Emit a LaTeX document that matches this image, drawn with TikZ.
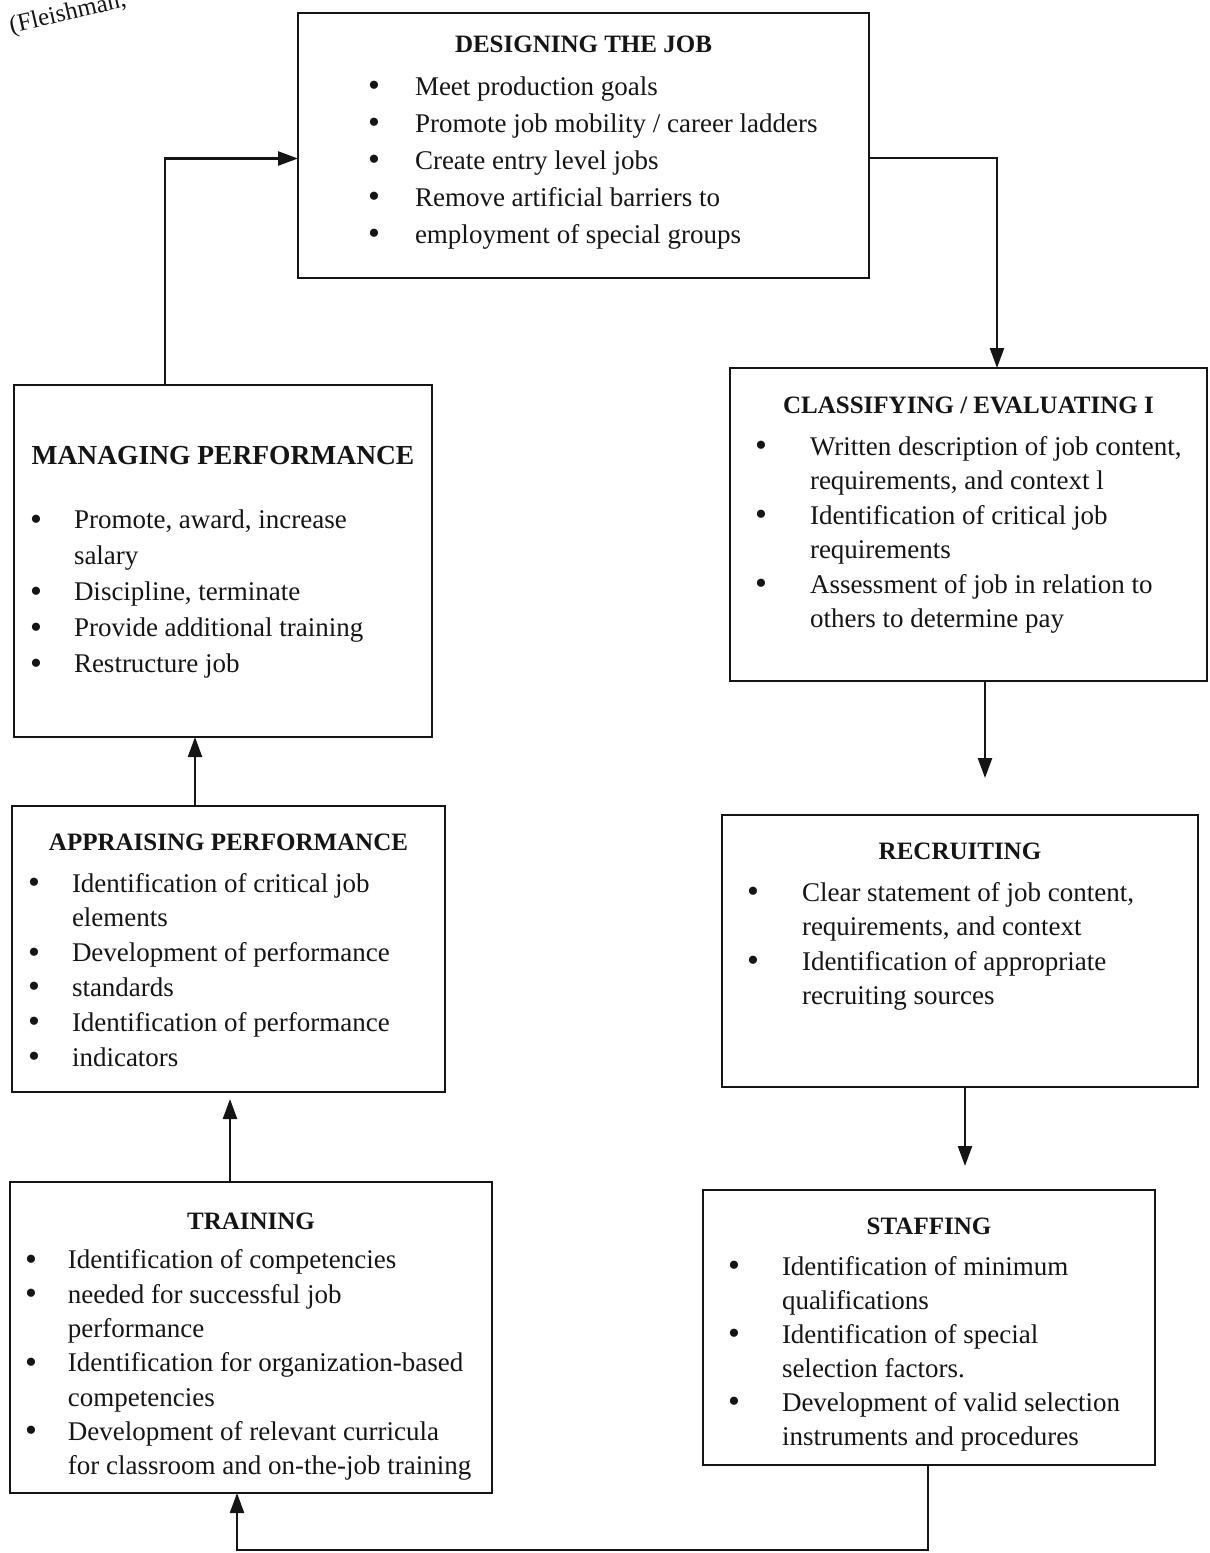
\documentclass[tikz,border=0pt]{standalone}
\usepackage{fontspec}
\setmainfont{Liberation Serif}
\usepackage{enumitem}
\usetikzlibrary{arrows.meta,positioning}
\definecolor{ink}{HTML}{151515}
\setlist[itemize]{label=\raisebox{-1.5pt}{\fontsize{34}{34}\selectfont\textbullet},align=left,labelwidth=16pt,topsep=0pt,partopsep=0pt,itemsep=0pt,parsep=0pt,rightmargin=-60pt}
\newcommand{\stagehead}[2][7pt]{{\centering\bfseries\fontsize{25}{30}\selectfont #2\par}\vspace{#1}}
\newcommand{\stagebody}[4]{\makebox[#1][l]{\begin{minipage}[t][#2][t]{#1}\vspace*{#3}#4\end{minipage}}}
\tikzset{stage/.style={draw=ink,line width=2.6pt,inner ysep=0pt,outer sep=0pt,text=ink,font=\fontsize{27}{34.5}\selectfont}, arr/.style={-{Triangle[length=20pt,width=14pt]},line width=2.4pt,draw=ink}}

\begin{document}
\begin{tikzpicture}[x=1pt,y=-1pt]
\useasboundingbox (0,0) rectangle (1210,1553);
\node[rotate=13,anchor=base west,text=ink,font=\fontsize{25}{28}\selectfont](cite) at (8,34){(Fleishman,};
\node[stage,inner xsep=70pt,anchor=north west,font=\fontsize{27}{37}\selectfont](design) at (298,13){\stagebody{431pt}{265pt}{23pt}{\stagehead[5.5pt]{DESIGNING THE JOB}\begin{itemize}[leftmargin=47pt,labelsep=31pt]\item Meet production goals\item Promote job mobility / career ladders\item Create entry level jobs\item Remove artificial barriers to\item employment of special groups\end{itemize}}};
\node[stage,inner xsep=25pt,below=90pt of design.south east,xshift=-139pt,anchor=north west](classify){\stagebody{427pt}{313pt}{29pt}{\stagehead{CLASSIFYING / EVALUATING I}\begin{itemize}[leftmargin=55pt,labelsep=39pt]\item Written description of job content,\\ requirements, and context l\item Identification of critical job\\ requirements\item Assessment of job in relation to\\ others to determine pay\end{itemize}}};
\node[stage,inner xsep=25pt,below=134pt of classify,xshift=-8.5pt](recruit){\stagebody{426pt}{272pt}{28pt}{\stagehead{RECRUITING}\begin{itemize}[leftmargin=55pt,labelsep=39pt]\item Clear statement of job content,\\ requirements, and context\item Identification of appropriate\\ recruiting sources\end{itemize}}};
\node[stage,inner xsep=25pt,below=103pt of recruit,xshift=-31pt,font=\fontsize{27}{34}\selectfont](staff){\stagebody{402pt}{275pt}{28pt}{\stagehead[6.5pt]{STAFFING}\begin{itemize}[leftmargin=54pt,labelsep=38pt]\item Identification of minimum\\ qualifications\item Identification of special\\ selection factors.\item Development of valid selection\\ instruments and procedures\end{itemize}}};
\node[stage,inner xsep=16pt,below=107pt of design.south west,xshift=-284pt,anchor=north west,font=\fontsize{27}{36}\selectfont](manage){\stagebody{386pt}{352pt}{61pt}{{\centering\bfseries\fontsize{27.5}{32}\selectfont MANAGING PERFORMANCE\par}\vspace{28.5pt}\begin{itemize}[leftmargin=44pt,labelsep=28pt]\item Promote, award, increase\\ salary\item Discipline, terminate\item Provide additional training\item Restructure job\end{itemize}}};
\node[stage,inner xsep=16pt,below=69pt of manage,xshift=5.5pt,font=\fontsize{27}{34.8}\selectfont](appraise){\stagebody{401pt}{286pt}{28pt}{\stagehead[6.7pt]{APPRAISING PERFORMANCE}\begin{itemize}[leftmargin=44pt,labelsep=28pt]\item Identification of critical job\\ elements\item Development of performance\item standards\item Identification of performance\item indicators\end{itemize}}};
\node[stage,inner xsep=15pt,below=90pt of appraise,xshift=22.5pt,font=\fontsize{27}{34.3}\selectfont](train){\stagebody{452pt}{311pt}{31pt}{\stagehead[5pt]{TRAINING}\begin{itemize}[leftmargin=43pt,labelsep=27pt]\item Identification of competencies\item needed for successful job\\ performance\item Identification for organization-based\\ competencies\item Development of relevant curricula\\ for classroom and on-the-job training\end{itemize}}};
\draw[arr]([yshift=-12.5pt]design.east)-|([xshift=28.5pt]classify.north);
\draw[arr]([xshift=16.5pt]classify.south)--([xshift=25pt,yshift=37pt]recruit.north);
\draw[arr]([xshift=5pt]recruit.south)--([xshift=36pt,yshift=24pt]staff.north);
\draw[arr]([xshift=-1pt]staff.south)--++(0,-85pt)-|([xshift=-14pt]train.south);
\draw[arr]([xshift=-21pt]train.north)--([xshift=1.5pt,yshift=-7pt]appraise.south);
\draw[arr]([xshift=-33.5pt]appraise.north)--([xshift=-28pt]manage.south);
\draw[arr]([xshift=-58pt]manage.north)|-([yshift=-13pt]design.west);
\end{tikzpicture}
\end{document}
